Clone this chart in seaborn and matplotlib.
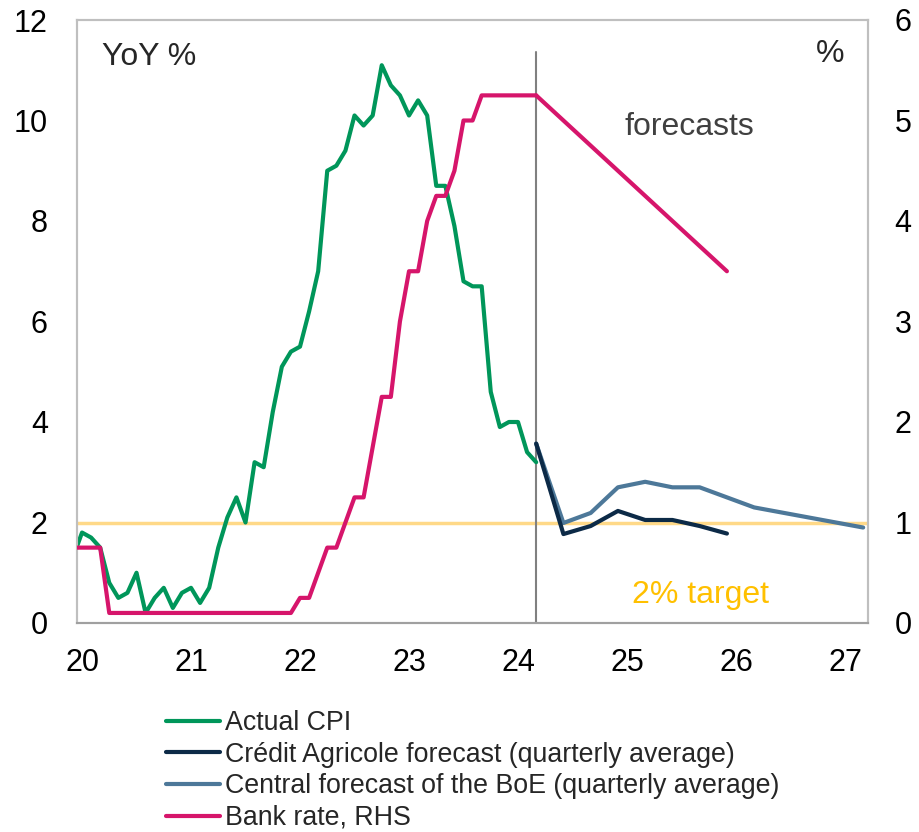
import numpy as np
import pandas as pd
import matplotlib
matplotlib.use("Agg")
import matplotlib.pyplot as plt
import seaborn as sns

# monthly data, first point = Dec 2019
cpi_start = 19 + 11 / 12
cpi = [1.3, 1.8, 1.7, 1.5, 0.8, 0.5, 0.6, 1.0, 0.2, 0.5, 0.7, 0.3, 0.6,
       0.7, 0.4, 0.7, 1.5, 2.1, 2.5, 2.0, 3.2, 3.1, 4.2, 5.1, 5.4,
       5.5, 6.2, 7.0, 9.0, 9.1, 9.4, 10.1, 9.9, 10.1, 11.1, 10.7, 10.5,
       10.1, 10.4, 10.1, 8.7, 8.7, 7.9, 6.8, 6.7, 6.7, 4.6, 3.9, 4.0,
       4.0, 3.4, 3.2]
bank_rate = [0.75, 0.75, 0.75, 0.75, 0.1, 0.1, 0.1, 0.1, 0.1, 0.1, 0.1, 0.1, 0.1,
             0.1, 0.1, 0.1, 0.1, 0.1, 0.1, 0.1, 0.1, 0.1, 0.1, 0.1, 0.1,
             0.25, 0.25, 0.5, 0.75, 0.75, 1.0, 1.25, 1.25, 1.75, 2.25, 2.25, 3.0,
             3.5, 3.5, 4.0, 4.25, 4.25, 4.5, 5.0, 5.0, 5.25, 5.25, 5.25, 5.25,
             5.25, 5.25, 5.25]

# quarterly forecasts, first point = Mar 2024
fc_start = 24 + 2 / 12
ca_forecast = [3.57, 1.77, 1.93, 2.23, 2.05, 2.05, 1.93, 1.78]
boe_forecast = [3.57, 1.99, 2.19, 2.70, 2.81, 2.70, 2.70, 2.50, 2.30, 2.20, 2.10, 2.00, 1.90]
bank_rate_fc = [5.25, 5.0, 4.75, 4.5, 4.25, 4.0, 3.75, 3.5]

target = 2.0
forecast_line_top = 11.37
year_ticks = [20, 21, 22, 23, 24, 25, 26, 27]

monthly_x = cpi_start + np.arange(len(cpi)) / 12
df_m = pd.DataFrame({"x": monthly_x, "cpi": cpi, "rate": bank_rate})
df_ca = pd.DataFrame({"x": fc_start + 0.25 * np.arange(len(ca_forecast)), "v": ca_forecast})
df_boe = pd.DataFrame({"x": fc_start + 0.25 * np.arange(len(boe_forecast)), "v": boe_forecast})
df_rfc = pd.DataFrame({"x": fc_start + 0.25 * np.arange(len(bank_rate_fc)), "v": bank_rate_fc})

sns.set_style("white")
plt.rcParams['font.family'] = ['Liberation Sans', 'DejaVu Sans']

green = "#00965A"
navy = "#0C2A47"
steel = "#4D7899"
pink = "#D6156B"

fig = plt.figure(figsize=(9.2, 8.32), dpi=100)
ax = fig.add_axes([77 / 920, 1 - 623 / 832, (868 - 77) / 920, (623 - 20) / 832])
ax2 = ax.twinx()

lw = 3.0
ax.axhline(target, color="#FFD988", lw=2.5, zorder=1)
ax.plot([fc_start, fc_start], [0, forecast_line_top], color="#808080", lw=1.5, zorder=2)

sns.lineplot(data=df_m, x="x", y="cpi", ax=ax, color=green, lw=lw, label="Actual CPI", zorder=4)
sns.lineplot(data=df_boe, x="x", y="v", ax=ax, color=steel, lw=lw, zorder=3)
sns.lineplot(data=df_ca, x="x", y="v", ax=ax, color=navy, lw=lw, zorder=4)
sns.lineplot(data=df_m, x="x", y="rate", ax=ax2, color=pink, lw=lw, zorder=4)
sns.lineplot(data=df_rfc, x="x", y="v", ax=ax2, color=pink, lw=lw, zorder=4)

ax.set_xlim(19.954, 27.211)
ax.set_ylim(0, 12)
ax2.set_ylim(0, 6)
ax.set_xticks(year_ticks)
ax.set_xticklabels([str(t) for t in year_ticks])
ax.set_yticks(range(0, 13, 2))
ax2.set_yticks(range(0, 7))
ax.set_xlabel("")
ax.set_ylabel("")
ax2.set_ylabel("")
fs = 22
ax.tick_params(axis="x", length=0, pad=18, labelsize=fs, colors="black")
ax.tick_params(axis="y", length=0, pad=21, labelsize=fs, colors="black")
ax2.tick_params(axis="y", length=0, pad=19, labelsize=fs, colors="black")

for a in (ax, ax2):
    for s in a.spines.values():
        s.set_color("#BFBFBF")
        s.set_linewidth(1.5)
    a.spines["bottom"].set_color("#A0A0A0")
if ax.get_legend():
    ax.get_legend().remove()

tfs = 23
ax.text(0.032, 0.938, "YoY %", transform=ax.transAxes, fontsize=tfs, va="center", ha="left")
ax.text(0.952, 0.944, "%", transform=ax.transAxes, fontsize=tfs, va="center", ha="center")
ax.text(0.774, 0.822, "forecasts", transform=ax.transAxes, fontsize=tfs, color="#404040",
        va="center", ha="center")
ax.text(0.788, 0.046, "2% target", transform=ax.transAxes, fontsize=tfs, color="#FFC000",
        va="center", ha="center")

handles = [plt.Line2D([], [], color=c, lw=lw) for c in (green, navy, steel, pink)]
labels = ["Actual CPI", "Crédit Agricole forecast (quarterly average)",
          "Central forecast of the BoE (quarterly average)", "Bank rate, RHS"]
fig.legend(handles, labels, loc="upper left", bbox_to_anchor=(166 / 920, 1 - 710 / 832),
           frameon=False, fontsize=19.3, handlelength=2.0, handletextpad=0.2,
           labelspacing=0.21, borderpad=0, borderaxespad=0)

fig.savefig("out.png", dpi=100)
